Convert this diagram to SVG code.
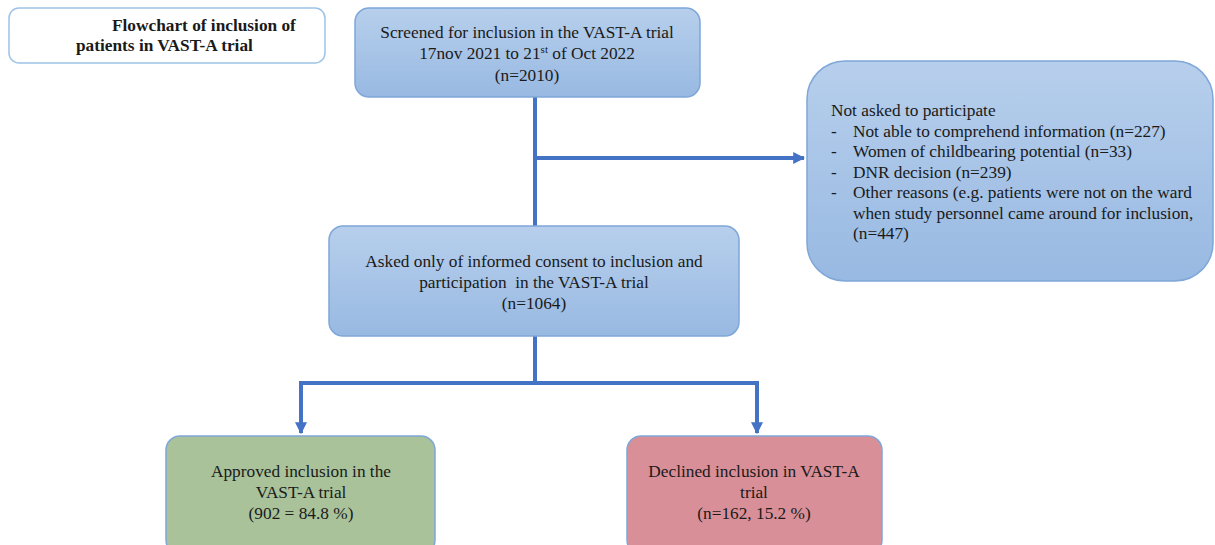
<svg xmlns="http://www.w3.org/2000/svg" width="1215" height="545" viewBox="0 0 1215 545">
<defs>
<linearGradient id="blue" x1="0" y1="0" x2="0" y2="1"><stop offset="0" stop-color="#B7CFEC"/><stop offset="1" stop-color="#98B9E2"/></linearGradient>
<marker id="arr" viewBox="0 0 10 10" refX="9" refY="5" markerWidth="3" markerHeight="3" orient="auto" markerUnits="strokeWidth"><path d="M0,0 L10,5 L0,10 z" fill="#4472C4"/></marker>
<style>
text{font-family:'Liberation Serif','Times New Roman',serif;font-size:17.3px;fill:#1a1a1a}
.c{text-anchor:middle}
.b{font-weight:bold}
.box{stroke:#7FA7D8;stroke-width:1.5}
.ln{stroke:#4472C4;stroke-width:4;fill:none}
</style>
</defs>
<rect width="1215" height="545" fill="#fff"/>
<g id="title">
<rect x="9" y="8" width="316" height="55" rx="10" fill="#fff" stroke="#9DC3E6" stroke-width="1.5"/>
<text class="b" x="112" y="31">Flowchart of inclusion of</text>
<text class="b" x="76" y="51">patients in VAST-A trial</text>
</g>
<g id="connectors">
<path class="ln" d="M535,97 V226"/>
<path class="ln" d="M535,158 H804" marker-end="url(#arr)"/>
<path class="ln" d="M535,336 V383"/>
<path class="ln" d="M301,383 H757"/>
<path class="ln" d="M301,381 V433" marker-end="url(#arr)"/>
<path class="ln" d="M757,381 V433" marker-end="url(#arr)"/>
</g>
<g id="screened">
<rect class="box" x="355" y="8" width="345" height="89" rx="14" fill="url(#blue)"/>
<text class="c" x="527" y="38">Screened for inclusion in the VAST-A trial</text>
<text class="c" x="527" y="59">17nov 2021 to 21<tspan font-size="11" dy="-6">st</tspan><tspan dy="6"> of Oct 2022</tspan></text>
<text class="c" x="527" y="81">(n=2010)</text>
</g>
<g id="notasked">
<rect class="box" x="807" y="61" width="406" height="220" rx="38" fill="url(#blue)"/>
<text x="831" y="116">Not asked to participate</text>
<text x="831" y="136.5">-</text><text x="853" y="136.5">Not able to comprehend information (n=227)</text>
<text x="831" y="157">-</text><text x="853" y="157">Women of childbearing potential (n=33)</text>
<text x="831" y="177.5">-</text><text x="853" y="177.5">DNR decision (n=239)</text>
<text x="831" y="198">-</text><text x="853" y="198">Other reasons (e.g. patients were not on the ward</text>
<text x="853" y="218.5">when study personnel came around for inclusion,</text>
<text x="853" y="239">(n=447)</text>
</g>
<g id="asked">
<rect class="box" x="329" y="226" width="410" height="110" rx="14" fill="url(#blue)"/>
<text class="c" x="534" y="267">Asked only of informed consent to inclusion and</text>
<text class="c" x="534" y="288" xml:space="preserve">participation  in the VAST-A trial</text>
<text class="c" x="534" y="309">(n=1064)</text>
</g>
<g id="approved">
<rect x="166" y="436" width="269" height="118" rx="14" fill="#A9C29A" stroke="#7FA7D8" stroke-width="1.5"/>
<text class="c" x="301" y="477">Approved inclusion in the</text>
<text class="c" x="301" y="498">VAST-A trial</text>
<text class="c" x="301" y="519">(902 = 84.8 %)</text>
</g>
<g id="declined">
<rect x="627" y="436" width="255" height="118" rx="14" fill="#D98F97" stroke="#7FA7D8" stroke-width="1.5"/>
<text class="c" x="754" y="477">Declined inclusion in VAST-A</text>
<text class="c" x="754" y="498">trial</text>
<text class="c" x="754" y="519">(n=162, 15.2 %)</text>
</g>
</svg>
